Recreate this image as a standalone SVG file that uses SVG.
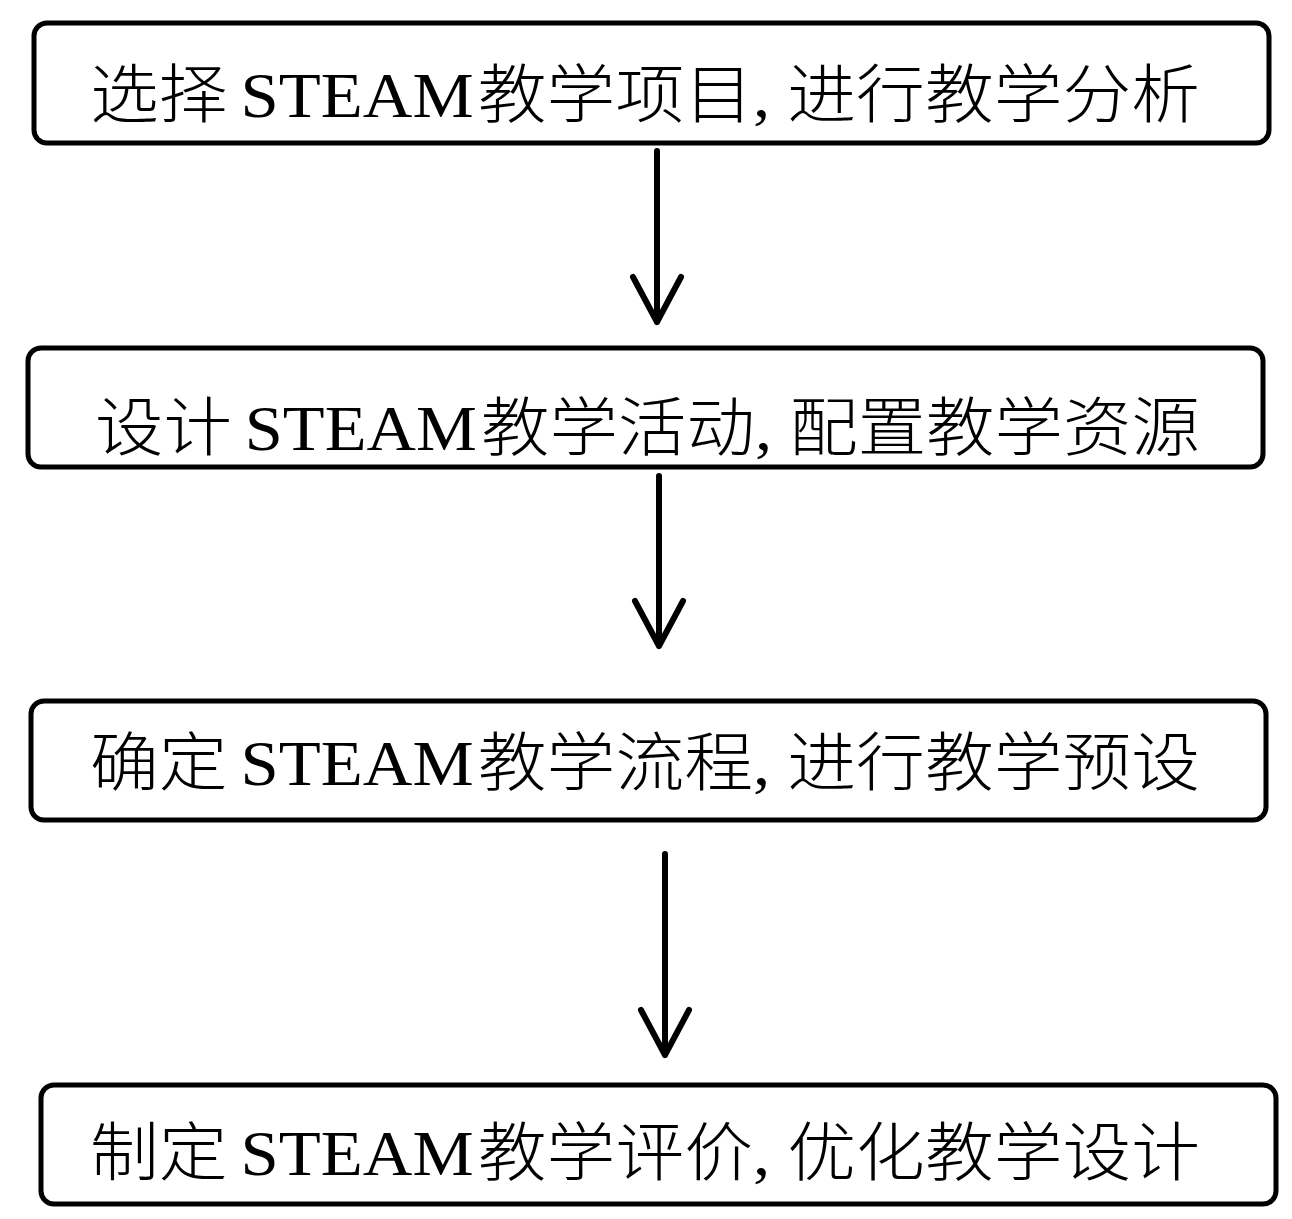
<svg xmlns="http://www.w3.org/2000/svg" width="1292" height="1219" viewBox="0 0 1292 1219">
<style>
.box{fill:#fff;stroke:#000;stroke-width:5}
.lbl{font-family:"Liberation Serif","Noto Sans CJK SC",serif;font-size:64px;fill:#000}
.cjk{font-family:"Noto Sans CJK SC",sans-serif;font-weight:300}
.conn{fill:none;stroke:#000;stroke-width:6;stroke-linecap:round;stroke-linejoin:round}
</style>
<rect width="1292" height="1219" fill="#fff"/>
<g id="node1">
<rect class="box" x="34" y="23" width="1235" height="120" rx="13"/>
<text class="lbl" x="90" y="117" textLength="1110" lengthAdjust="spacingAndGlyphs"><tspan class="cjk">选择</tspan><tspan dx="12">STEAM</tspan><tspan class="cjk" dx="4">教学项目</tspan>, <tspan class="cjk">进行教学分析</tspan></text>
</g>
<g id="node2">
<rect class="box" x="28" y="348" width="1235" height="119" rx="13"/>
<text class="lbl" x="95" y="450" textLength="1105" lengthAdjust="spacingAndGlyphs"><tspan class="cjk">设计</tspan><tspan dx="12">STEAM</tspan><tspan class="cjk" dx="4">教学活动</tspan>, <tspan class="cjk">配置教学资源</tspan></text>
</g>
<g id="node3">
<rect class="box" x="31" y="701" width="1235" height="119" rx="13"/>
<text class="lbl" x="90" y="785" textLength="1110" lengthAdjust="spacingAndGlyphs"><tspan class="cjk">确定</tspan><tspan dx="12">STEAM</tspan><tspan class="cjk" dx="4">教学流程</tspan>, <tspan class="cjk">进行教学预设</tspan></text>
</g>
<g id="node4">
<rect class="box" x="41" y="1085" width="1235" height="119" rx="13"/>
<text class="lbl" x="90" y="1175" textLength="1110" lengthAdjust="spacingAndGlyphs"><tspan class="cjk">制定</tspan><tspan dx="12">STEAM</tspan><tspan class="cjk" dx="4">教学评价</tspan>, <tspan class="cjk">优化教学设计</tspan></text>
</g>
<g id="connectors">
<path class="conn" d="M657 151 V322 M633 277 L657 322 L681 277"/>
<path class="conn" d="M659 476 V646 M635 601 L659 646 L683 601"/>
<path class="conn" d="M665 854 V1055 M641 1010 L665 1055 L689 1010"/>
</g>
</svg>
